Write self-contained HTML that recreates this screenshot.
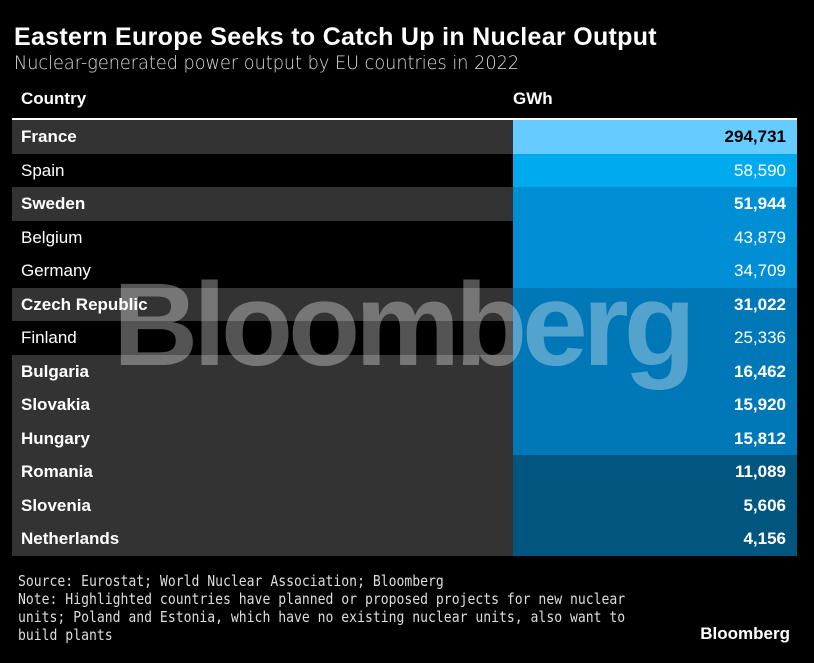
<!DOCTYPE html>
<html><head><meta charset="utf-8"><style>
body{margin:0;background:#000;width:814px;height:663px;overflow:hidden;font-family:"Liberation Sans",sans-serif;color:#fff;position:relative}
.t{position:absolute;left:14px;top:23px;font-size:25px;font-weight:bold;letter-spacing:0.3px}
.st{position:absolute;left:14px;top:52px;font-size:19px;font-family:"DejaVu Sans",sans-serif;font-weight:200;color:#ddd;transform:scaleX(0.93);transform-origin:left}
.h{position:absolute;top:89px;font-size:17px;font-weight:bold}
.line{position:absolute;left:12px;width:785px;top:118px;height:2px;background:#fff}
.row{position:absolute;left:12px;width:785px;height:33.5px}
.nm{position:absolute;left:9px;top:7px;font-size:17px}
.cell{position:absolute;left:501px;width:284px;height:100%}
.v{position:absolute;right:11px;top:7px;font-size:17px}
.foot{position:absolute;left:18px;top:572px;font-size:15.5px;line-height:18px;font-family:"DejaVu Sans Mono","Liberation Mono",monospace;color:#ddd;transform:scaleX(0.845);transform-origin:left}
.logo{position:absolute;right:24px;top:624px;font-size:17px;font-weight:bold}
.wm{position:absolute;left:113px;top:257px;font-size:118px;font-weight:bold;color:rgba(255,255,255,0.33);letter-spacing:-5px;pointer-events:none}
</style></head><body>
<div class="t">Eastern Europe Seeks to Catch Up in Nuclear Output</div>
<div class="st">Nuclear-generated power output by EU countries in 2022</div>
<div class="h" style="left:21px">Country</div>
<div class="h" style="left:513px">GWh</div>
<div class="line"></div>
<div id="tbl"></div>
<div class="wm">Bloomberg</div>
<div class="foot">Source: Eurostat; World Nuclear Association; Bloomberg<br>Note: Highlighted countries have planned or proposed projects for new nuclear<br>units; Poland and Estonia, which have no existing nuclear units, also want to<br>build plants</div>
<div class="logo">Bloomberg</div>
<script>
const countries=["France","Spain","Sweden","Belgium","Germany","Czech Republic","Finland","Bulgaria","Slovakia","Hungary","Romania","Slovenia","Netherlands"];
const values=[294731,58590,51944,43879,34709,31022,25336,16462,15920,15812,11089,5606,4156];
const highlighted=[1,0,1,0,0,1,0,1,1,1,1,1,1];
const tbl=document.getElementById('tbl');
function colorFor(v,i){
  if(v>100000)return "#66ccff";
  if(i===1)return "#00aaee";
  if(v>=34000)return "#008fd5";
  if(v>=15000)return "#0077b6";
  return "#00567f";
}
countries.forEach((c,i)=>{
  const r=document.createElement('div');r.className='row';
  
  
  r.style.top=(120+i*33.5)+'px';
  r.style.background=highlighted[i]?'#333':'#000';
  const n=document.createElement('div');n.className='nm';n.textContent=c;
  
  
  if(highlighted[i])n.style.fontWeight='bold';
  const cell=document.createElement('div');cell.className='cell';
  
  
  cell.style.background=colorFor(values[i],i);
  const v=document.createElement('div');v.className='v';
  
  
  v.textContent=values[i].toLocaleString('en-US');
  if(highlighted[i])v.style.fontWeight='bold';
  if(values[i]>100000)v.style.color='#000';
  cell.appendChild(v);r.appendChild(n);r.appendChild(cell);tbl.appendChild(r);
});
</script>
</body></html>
